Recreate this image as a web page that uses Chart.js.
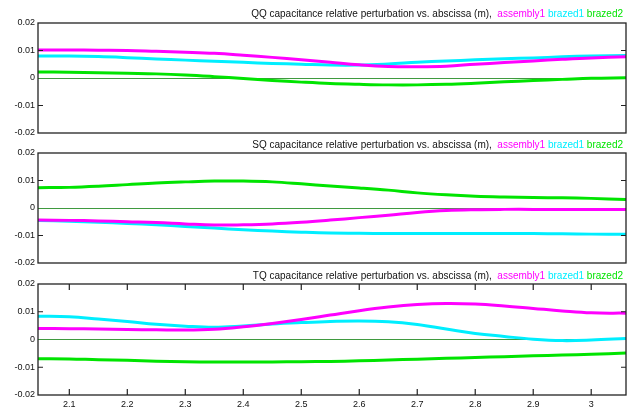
<!DOCTYPE html>
<html>
<head>
<meta charset="utf-8">
<script src="https://cdn.jsdelivr.net/npm/chart.js@4.4.1/dist/chart.umd.min.js"></script>
<style>
  body { margin: 0; background: #fff; }
  .panel { position: absolute; left: 0; width: 630px; }
</style>
</head>
<body>
<div class="panel" style="top:0;height:135px"><canvas id="qq"></canvas></div>
<div class="panel" style="top:135px;height:131px"><canvas id="sq"></canvas></div>
<div class="panel" style="top:266px;height:145px"><canvas id="tq"></canvas></div>
<script>
// abscissa (m)
const xs = [2.046, 2.1, 2.15, 2.2, 2.25, 2.3, 2.35, 2.4, 2.45, 2.5, 2.55,
            2.6, 2.65, 2.7, 2.75, 2.8, 2.85, 2.9, 2.95, 3.0, 3.06];
const xTicks = [2.1, 2.2, 2.3, 2.4, 2.5, 2.6, 2.7, 2.8, 2.9, 3];
const yTicks = [0.02, 0.01, 0, -0.01, -0.02];
const seriesNames = ['assembly1', 'brazed1', 'brazed2'];
const seriesColors = ['#ff00ff', '#00eeff', '#00e400'];

// QQ
const qqAssembly1 = [0.0102, 0.0102, 0.0101, 0.0100, 0.0097, 0.0094, 0.0090, 0.0083, 0.0075, 0.0066, 0.0057,
                     0.0048, 0.0042, 0.0041, 0.0043, 0.0050, 0.0056, 0.0062, 0.0068, 0.0073, 0.0077];
const qqBrazed1 = [0.0080, 0.0080, 0.0078, 0.0074, 0.0069, 0.0065, 0.0061, 0.0057, 0.0053, 0.0050, 0.0047,
                   0.0047, 0.0051, 0.0057, 0.0062, 0.0066, 0.0070, 0.0073, 0.0077, 0.0080, 0.0082];
const qqBrazed2 = [0.0022, 0.0021, 0.0019, 0.0017, 0.0015, 0.0011, 0.0005, -0.0002, -0.0009, -0.0015, -0.0020,
                   -0.0023, -0.0025, -0.0025, -0.0023, -0.0019, -0.0014, -0.0009, -0.0005, -0.0001, 0.0001];
// SQ
const sqAssembly1 = [-0.0044, -0.0045, -0.0047, -0.0050, -0.0053, -0.0058, -0.0062, -0.0061, -0.0058, -0.0052, -0.0044,
                     -0.0035, -0.0026, -0.0016, -0.0009, -0.0006, -0.0005, -0.0005, -0.0005, -0.0005, -0.0005];
const sqBrazed1 = [-0.0045, -0.0048, -0.0052, -0.0056, -0.0061, -0.0067, -0.0073, -0.0079, -0.0084, -0.0088, -0.0091,
                   -0.0092, -0.0093, -0.0093, -0.0093, -0.0093, -0.0093, -0.0093, -0.0094, -0.0095, -0.0095];
const sqBrazed2 = [0.0074, 0.0075, 0.0079, 0.0085, 0.0091, 0.0095, 0.0098, 0.0098, 0.0095, 0.0088, 0.0080,
                   0.0073, 0.0065, 0.0055, 0.0048, 0.0043, 0.0040, 0.0038, 0.0037, 0.0035, 0.0031];
// TQ
const tqAssembly1 = [0.0040, 0.0039, 0.0038, 0.0036, 0.0035, 0.0034, 0.0037, 0.0046, 0.0058, 0.0072, 0.0088,
                     0.0104, 0.0117, 0.0126, 0.0130, 0.0128, 0.0121, 0.0112, 0.0103, 0.0096, 0.0095];
const tqBrazed1 = [0.0084, 0.0082, 0.0074, 0.0065, 0.0055, 0.0048, 0.0044, 0.0049, 0.0056, 0.0061, 0.0065,
                   0.0067, 0.0064, 0.0054, 0.0038, 0.0022, 0.0011, 0.0001, -0.0004, -0.0002, 0.0004];
const tqBrazed2 = [-0.0069, -0.0070, -0.0073, -0.0075, -0.0078, -0.0080, -0.0081, -0.0081, -0.0081, -0.0080, -0.0079,
                   -0.0077, -0.0074, -0.0071, -0.0068, -0.0065, -0.0062, -0.0059, -0.0056, -0.0053, -0.0049];

// title + box + inward ticks
const framePlugin = {
  id: 'frame',
  afterDatasetsDraw(chart, args, opts) {
    const { ctx, chartArea: a, scales } = chart;
    ctx.save();
    ctx.strokeStyle = '#222';
    ctx.lineWidth = 1.3;
    ctx.strokeRect(a.left, a.top, a.right - a.left, a.bottom - a.top);
    ctx.lineWidth = 1.2;
    ctx.beginPath();
    [0.01, -0.01].forEach(v => {
      const y = scales.y.getPixelForValue(v);
      ctx.moveTo(a.left, y); ctx.lineTo(a.left + 5, y);
      ctx.moveTo(a.right, y); ctx.lineTo(a.right - 5, y);
    });
    if (opts.xTicks) {
      xTicks.forEach(v => {
        const x = scales.x.getPixelForValue(v);
        ctx.moveTo(x, a.top); ctx.lineTo(x, a.top + 6);
        ctx.moveTo(x, a.bottom); ctx.lineTo(x, a.bottom - 6);
      });
    }
    ctx.stroke();

    // multicolour title, right aligned
    ctx.font = '10px "Liberation Sans", Arial, sans-serif';
    ctx.textBaseline = 'middle';
    const parts = [[opts.title + ' capacitance relative perturbation vs. abscissa (m),  ', '#111']];
    seriesNames.forEach((n, i) => parts.push([n + (i < seriesNames.length - 1 ? ' ' : ''), seriesColors[i]]));
    let x = a.right - 3;
    const y = a.top - opts.titleOffset;
    for (let i = parts.length - 1; i >= 0; i--) {
      const w = ctx.measureText(parts[i][0]).width;
      x -= w;
      ctx.fillStyle = parts[i][1];
      ctx.fillText(parts[i][0], x, y);
    }
    ctx.restore();
  }
};

function makePanel(id, title, values, showX, top, titleOffset, bottomPad) {
  const datasets = values.map((arr, i) => ({
    label: seriesNames[i],
    data: xs.map((x, j) => ({ x: x, y: arr[j] })),
    borderColor: seriesColors[i],
    borderWidth: 3,
    pointRadius: 0,
    tension: 0.4,
    fill: false
  }));
  new Chart(document.getElementById(id), {
    type: 'line',
    data: { datasets: datasets },
    plugins: [framePlugin],
    options: {
      responsive: true,
      maintainAspectRatio: false,
      animation: false,
      layout: { padding: { left: 0, right: 4, top: top, bottom: bottomPad } },
      plugins: {
        legend: { display: false },
        tooltip: { enabled: false },
        frame: { title: title, xTicks: showX, titleOffset: titleOffset }
      },
      scales: {
        x: {
          type: 'linear',
          min: 2.046,
          max: 3.06,
          display: showX,
          afterBuildTicks: s => { s.ticks = xTicks.map(v => ({ value: v })); },
          afterFit: s => { s.height = showX ? 16 : 0; s.paddingLeft = 0; s.paddingRight = 0; },
          grid: { display: false, drawTicks: false },
          border: { display: false },
          ticks: {
            padding: 4,
            color: '#111',
            font: { family: '"Liberation Sans", Arial, sans-serif', size: 9 },
            callback: v => String(v)
          }
        },
        y: {
          min: -0.02,
          max: 0.02,
          afterBuildTicks: s => { s.ticks = yTicks.map(v => ({ value: v })); },
          afterFit: s => { s.width = 38; s.paddingTop = 0; s.paddingBottom = 0; },
          border: { display: false },
          grid: {
            drawTicks: false,
            lineWidth: 1,
            color: c => (c.tick && c.tick.value === 0 ? '#3f9a3f' : 'rgba(0,0,0,0)')
          },
          ticks: {
            padding: 3,
            color: '#111',
            font: { family: '"Liberation Sans", Arial, sans-serif', size: 9 },
            callback: v => (v === 0 ? '0' : String(Math.round(v * 100) / 100))
          }
        }
      }
    }
  });
}

makePanel('qq', 'QQ', [qqAssembly1, qqBrazed1, qqBrazed2], false, 23, 9, 2);
makePanel('sq', 'SQ', [sqAssembly1, sqBrazed1, sqBrazed2], false, 18, 8, 3);
makePanel('tq', 'TQ', [tqAssembly1, tqBrazed1, tqBrazed2], true, 18, 8, 0);
</script>
</body>
</html>
